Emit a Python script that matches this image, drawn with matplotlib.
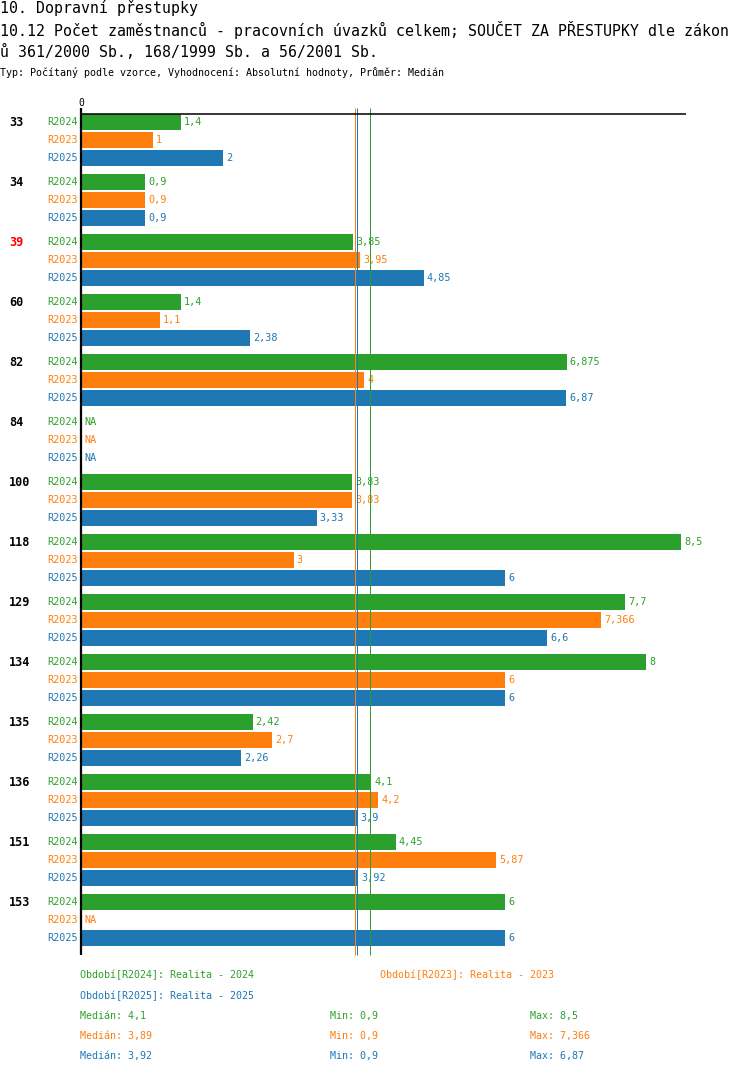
import numpy as np
import matplotlib
matplotlib.use("Agg")
import matplotlib.pyplot as plt

# Data
groups = ["33", "34", "39", "60", "82", "84", "100", "118", "129", "134", "135", "136", "151", "153"]
series = ["R2024", "R2023", "R2025"]
r2024 = [1.4, 0.9, 3.85, 1.4, 6.875, np.nan, 3.83, 8.5, 7.7, 8, 2.42, 4.1, 4.45, 6]
r2023 = [1, 0.9, 3.95, 1.1, 4, np.nan, 3.83, 3, 7.366, 6, 2.7, 4.2, 5.87, np.nan]
r2025 = [2, 0.9, 4.85, 2.38, 6.87, np.nan, 3.33, 6, 6.6, 6, 2.26, 3.9, 3.92, 6]
legend_names = ["Období[R2024]: Realita - 2024", "Období[R2023]: Realita - 2023",
                "Období[R2025]: Realita - 2025"]
highlight = "39"

colors = ["#2ca02c", "#ff7f0e", "#1f77b4"]
values = [r2024, r2023, r2025]

W, H = 750, 1074
plt.rcParams["font.family"] = ["DejaVu Sans Mono", "DejaVu Sans"]

fig = plt.figure(figsize=(W / 100, H / 100), dpi=100)


def ftext(x, y, s, **kw):
    fig.text(x / W, 1 - y / H, s, **kw)


# ==========================================
# Titles
# ==========================================
ftext(0, 8, "10. Dopravní přestupky", fontsize=10.7, va="center")
ftext(0, 30, "10.12 Počet zaměstnanců - pracovních úvazků celkem; SOUČET ZA PŘESTUPKY dle zákon",
      fontsize=10.7, va="center")
ftext(0, 52, "ů 361/2000 Sb., 168/1999 Sb. a 56/2001 Sb.", fontsize=10.7, va="center")
ftext(0, 73, "Typ: Počítaný podle vzorce, Vyhodnocení: Absolutní hodnoty, Průměr: Medián",
      fontsize=7.2, va="center")

# ==========================================
# Bars
# ==========================================
x0, x1 = 81, 686
top, bottom = 114, 955
scale = 70.5
ax = fig.add_axes([x0 / W, 1 - bottom / H, (x1 - x0) / W, (bottom - top) / H])
first = 122
ax.set_ylim(bottom - first, top - first)
ax.set_xlim(0, (x1 - x0) / scale)

px = 1 / scale  # one pixel in data units
for i, g in enumerate(groups):
    for k, (name, vals, c) in enumerate(zip(series, values, colors)):
        y = i * 60 + k * 18
        v = vals[i]
        ax.text(-3 * px, y, name, color=c, fontsize=7.3, ha="right", va="center", clip_on=False)
        if np.isnan(v):
            ax.text(3 * px, y, "NA", color=c, fontsize=7.3, va="center")
        else:
            ax.barh(y, v, height=16, left=px, color=c, zorder=1)
            ax.text(v + 4 * px, y, f"{v:g}".replace(".", ","), color=c, fontsize=7.3,
                    va="center", clip_on=False)
    ax.text(-72 * px, i * 60, g, fontsize=8.5, fontweight="bold", va="center",
            color="red" if g == highlight else "black", clip_on=False)

# median lines
medians = [np.nanmedian(v) for v in values]
for m, c in zip(medians, colors):
    ax.vlines(m, top - first - 6, bottom - first, color=c, linewidth=0.72, zorder=3,
              clip_on=False)

# axis lines
ax.vlines(0, top - first - 6, bottom - first, color="black", linewidth=1.6, zorder=4, clip_on=False)
ax.hlines(top - first, 0, (x1 - x0) / scale, color="black", linewidth=1.1, zorder=4, clip_on=False)
ax.text(0, top - first - 11, "0", fontsize=7, ha="center", va="center", clip_on=False)

for s in ax.spines.values():
    s.set_visible(False)
ax.set_xticks([])
ax.set_yticks([])

# ==========================================
# Legend and stats
# ==========================================
ftext(80, 975, legend_names[0], color=colors[0], fontsize=7.2, va="center")
ftext(380, 975, legend_names[1], color=colors[1], fontsize=7.2, va="center")
ftext(80, 996, legend_names[2], color=colors[2], fontsize=7.2, va="center")

for j, (vals, c) in enumerate(zip(values, colors)):
    y = 1016 + j * 20
    fmt = lambda v: f"{v:g}".replace(".", ",")
    ftext(80, y, "Medián: " + fmt(np.nanmedian(vals)), color=c, fontsize=7.2, va="center")
    ftext(330, y, "Min: " + fmt(np.nanmin(vals)), color=c, fontsize=7.2, va="center")
    ftext(530, y, "Max: " + fmt(np.nanmax(vals)), color=c, fontsize=7.2, va="center")

fig.savefig("out.png", dpi=100)
